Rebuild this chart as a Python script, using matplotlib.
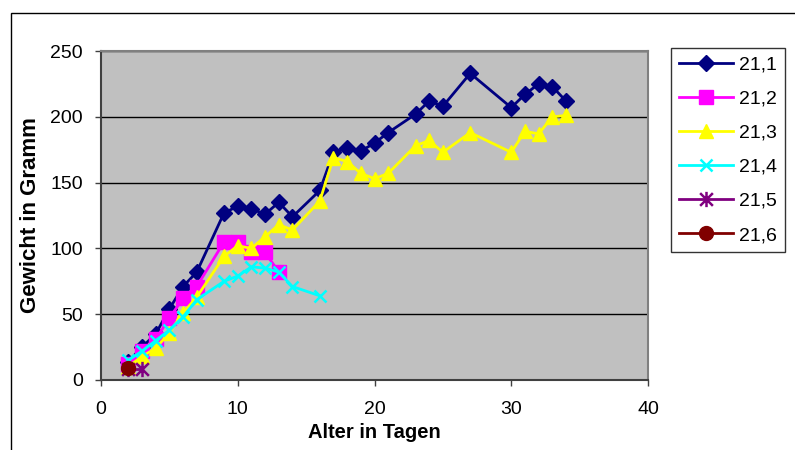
import matplotlib
matplotlib.use("Agg")
import matplotlib.pyplot as plt
from matplotlib.patches import Rectangle
from matplotlib.path import Path

plt.rcParams['font.family'] = ['Liberation Sans', 'DejaVu Sans']

# Daten: Alter (Tage) und Gewicht (Gramm) je Tier
tage_21_1 = [2, 3, 4, 5, 6, 7, 9, 10, 11, 12, 13, 14, 16, 17, 18, 19, 20, 21,
             23, 24, 25, 27, 30, 31, 32, 33, 34]
gew_21_1 = [14, 25, 35, 54, 71, 82, 127, 132, 130, 126, 135, 124, 144, 173,
            176, 174, 180, 188, 202, 212, 208, 233, 207, 217, 225, 223, 212]

tage_21_2 = [2, 3, 4, 5, 6, 7, 9, 10, 11, 12, 13]
gew_21_2 = [12, 22, 31, 47, 62, 71, 105, 105, 97, 97, 82]

tage_21_3 = [2, 3, 4, 5, 6, 7, 9, 10, 11, 12, 13, 14, 16, 17, 18, 19, 20, 21,
             23, 24, 25, 27, 30, 31, 32, 33, 34]
gew_21_3 = [10, 18, 24, 36, 51, 63, 94, 102, 100, 109, 118, 114, 136, 169,
            166, 157, 153, 157, 178, 182, 173, 188, 173, 189, 187, 200, 201]

tage_21_4 = [2, 3, 4, 5, 6, 7, 9, 10, 11, 12, 13, 14, 16]
gew_21_4 = [15, 22, 30, 38, 48, 61, 75, 79, 86, 85, 82, 71, 64]

tage_21_5 = [2, 3]
gew_21_5 = [8, 8]

tage_21_6 = [2]
gew_21_6 = [9]

# Excel-Stern: X mit senkrechtem Strich
stern = Path([(-1, -1), (1, 1), (-1, 1), (1, -1), (0, -1.2), (0, 1.2)],
             [Path.MOVETO, Path.LINETO, Path.MOVETO, Path.LINETO,
              Path.MOVETO, Path.LINETO])

serien = [
    ('21,1', tage_21_1, gew_21_1, '#000080', 'D', 8.5),
    ('21,2', tage_21_2, gew_21_2, '#FF00FF', 's', 10),
    ('21,3', tage_21_3, gew_21_3, '#FFFF00', '^', 10),
    ('21,4', tage_21_4, gew_21_4, '#00FFFF', 'x', 8.5),
    ('21,5', tage_21_5, gew_21_5, '#800080', stern, 11),
    ('21,6', tage_21_6, gew_21_6, '#800000', 'o', 10),
]

fig = plt.figure(figsize=(7.95, 4.5), dpi=100)
fig.patch.set_facecolor('white')

# Rahmen des Diagrammbereichs (läuft über den Bildrand hinaus)
fig.add_artist(Rectangle((11 / 795, -0.1), 1.0, 1 - 13 / 450 + 0.1,
                         transform=fig.transFigure, fill=False,
                         edgecolor='black', linewidth=1.0))

ax = fig.add_axes([101 / 795, 70 / 450, 547 / 795, 329 / 450])
ax.set_facecolor('#C0C0C0')

for name, x, y, farbe, marker, ms in serien:
    if marker in ('x',) or isinstance(marker, Path):
        ax.plot(x, y, color=farbe, marker=marker, markersize=ms, linewidth=2,
                markeredgewidth=1.8, label=name, zorder=3)
    else:
        ax.plot(x, y, color=farbe, marker=marker, markersize=ms, linewidth=2,
                markeredgecolor=farbe, label=name, zorder=3)

ax.set_xlim(0, 40)
ax.set_ylim(0, 250)
ax.set_xticks([0, 10, 20, 30, 40])
ax.set_yticks([0, 50, 100, 150, 200, 250])
ax.yaxis.grid(True, color='black', linewidth=1)
ax.set_axisbelow(True)
ax.tick_params(axis='both', labelsize=14, direction='out', length=4,
               color='#404040', width=1)
ax.tick_params(axis='x', pad=11)
ax.tick_params(axis='y', pad=9)

for pos in ['left', 'bottom']:
    ax.spines[pos].set_color('#404040')
    ax.spines[pos].set_linewidth(1.5)
for pos in ['top', 'right']:
    ax.spines[pos].set_color('#808080')
    ax.spines[pos].set_linewidth(1.5)

ax.set_xlabel('Alter in Tagen', fontsize=14.5, fontweight='bold', labelpad=4)
ax.set_ylabel('Gewicht in Gramm', fontsize=16, fontweight='bold', labelpad=7)

leg = fig.legend(loc='upper left', bbox_to_anchor=(671 / 795, 1 - 48 / 450),
                 borderaxespad=0, fontsize=14, frameon=True, fancybox=False,
                 edgecolor='black', handlelength=2.8, labelspacing=0.85,
                 borderpad=0.4, handletextpad=0.3)
leg.get_frame().set_linewidth(1.0)

fig.savefig('out.png', dpi=100)
